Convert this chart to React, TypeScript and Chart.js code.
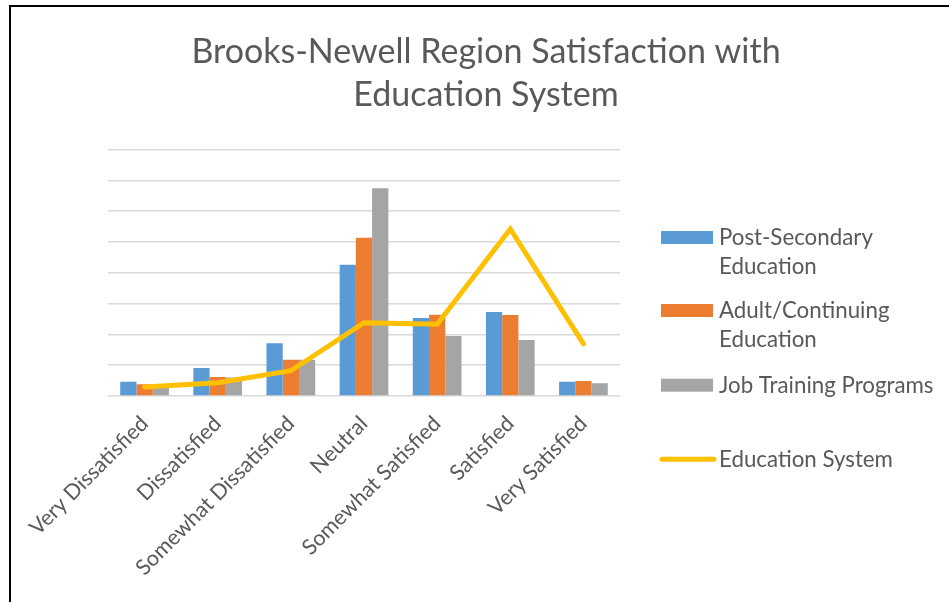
import React, { useEffect, useRef } from 'react';
import { Chart, registerables } from 'chart.js';

Chart.register(...registerables);

// ---------------- data ----------------
const categories = [
  'Very Dissatisfied',
  'Dissatisfied',
  'Somewhat Dissatisfied',
  'Neutral',
  'Somewhat Satisfied',
  'Satisfied',
  'Very Satisfied',
];
const postSecondary = [0.46, 0.91, 1.71, 4.26, 2.53, 2.73, 0.46];
const adultContinuing = [0.38, 0.62, 1.18, 5.14, 2.64, 2.63, 0.49];
const jobTraining = [0.26, 0.6, 1.18, 6.74, 1.95, 1.82, 0.41];
const educationSystem = [0.29, 0.43, 0.82, 2.38, 2.33, 5.42, 1.69];

const seriesNames = [
  'Post-Secondary Education',
  'Adult/Continuing Education',
  'Job Training Programs',
  'Education System',
];
const legendLines = [
  ['Post-Secondary', 'Education'],
  ['Adult/Continuing', 'Education'],
  ['Job Training Programs'],
  ['Education System'],
];
const titleLines = ['Brooks-Newell Region Satisfaction with', 'Education System'];

const BLUE = '#5B9BD5';
const ORANGE = '#ED7D31';
const GRAY = '#A5A5A5';
const GOLD = '#FFC000';
const TEXT = '#595959';
const FONT = 'Lato';

const framePlugin = {
  id: 'frame',
  beforeDraw(chart: any) {
    const ctx = chart.ctx;
    ctx.save();
    ctx.fillStyle = '#ffffff';
    ctx.fillRect(0, 0, chart.width, chart.height);
    ctx.fillStyle = '#000000';
    ctx.fillRect(9, 5, 2, chart.height - 5);
    ctx.fillRect(9, 5, chart.width - 9, 2);
    ctx.restore();
  },
};

const sideLegendPlugin = {
  id: 'sideLegend',
  afterDraw(chart: any) {
    const ctx = chart.ctx;
    const baselines = [245, 318, 392.7, 466.7];
    const lineGap = 29;
    const swX = 661;
    const swW = 52;
    const textX = 719;
    ctx.save();
    ctx.font = `22.3px ${FONT}`;
    ctx.fillStyle = TEXT;
    ctx.textBaseline = 'alphabetic';
    ctx.textAlign = 'left';
    chart.data.datasets.forEach((ds: any, i: number) => {
      const b = baselines[i];
      if (ds.type === 'line') {
        ctx.strokeStyle = ds.borderColor;
        ctx.lineWidth = 5;
        ctx.lineCap = 'round';
        ctx.beginPath();
        ctx.moveTo(swX + 1, b - 7.4);
        ctx.lineTo(swX + swW + 1, b - 7.4);
        ctx.stroke();
      } else {
        ctx.fillStyle = ds.backgroundColor;
        ctx.fillRect(swX, b - 14, swW, 13);
      }
      ctx.fillStyle = TEXT;
      legendLines[i].forEach((t, j) => ctx.fillText(t, textX, b + j * lineGap));
    });
    ctx.restore();
  },
};

export default function App() {
  const ref = useRef<HTMLCanvasElement | null>(null);

  useEffect(() => {
    document.body.style.margin = '0';
    const canvas = ref.current;
    if (!canvas) return;
    const chart = new Chart(canvas, {
      type: 'bar',
      data: {
        labels: categories,
        datasets: [
          { type: 'bar', label: seriesNames[0], data: postSecondary, backgroundColor: BLUE, order: 1 },
          { type: 'bar', label: seriesNames[1], data: adultContinuing, backgroundColor: ORANGE, order: 1 },
          { type: 'bar', label: seriesNames[2], data: jobTraining, backgroundColor: GRAY, order: 1 },
          {
            type: 'line',
            label: seriesNames[3],
            data: educationSystem,
            borderColor: GOLD,
            backgroundColor: GOLD,
            borderWidth: 5,
            pointRadius: 0,
            borderCapStyle: 'round',
            tension: 0,
            order: 0,
          },
        ] as any,
      },
      options: {
        responsive: false,
        animation: false,
        layout: { padding: { left: 23, right: 0, top: 0, bottom: 0 } },
        datasets: {
          bar: { categoryPercentage: 0.666, barPercentage: 1, borderWidth: 0 },
        },
        plugins: {
          legend: { display: false },
          tooltip: { enabled: false },
          title: {
            display: true,
            text: titleLines,
            color: TEXT,
            font: { family: FONT, size: 34, weight: 'normal', lineHeight: 1.28 },
            padding: { top: 30, bottom: 32.5 },
          },
        },
        scales: {
          x: {
            grid: { display: false },
            border: { display: false },
            ticks: {
              color: TEXT,
              font: { family: FONT, size: 21.5 },
              minRotation: 45,
              maxRotation: 45,
              autoSkip: false,
              padding: 7,
            },
            afterFit(s: any) {
              s.height = 206;
              s.paddingLeft = 0;
              s.paddingRight = 0;
            },
          },
          y: {
            min: 0,
            max: 8,
            ticks: { display: false, stepSize: 1 },
            grid: { color: '#D9D9D9', lineWidth: 1.5, drawTicks: false },
            border: { display: false },
            afterFit(s: any) {
              s.width = 85;
            },
          },
          spacer: {
            type: 'linear',
            position: 'right',
            display: true,
            grid: { display: false },
            ticks: { display: false },
            border: { display: false },
            afterFit(s: any) {
              s.width = 329;
            },
          },
        },
      } as any,
      plugins: [framePlugin, sideLegendPlugin],
    });
    return () => chart.destroy();
  }, []);

  return (
    <div style={{ width: 949, height: 602, position: 'relative' }}>
      <canvas ref={ref} width={949} height={602} style={{ display: 'block', width: 949, height: 602 }} />
    </div>
  );
}
